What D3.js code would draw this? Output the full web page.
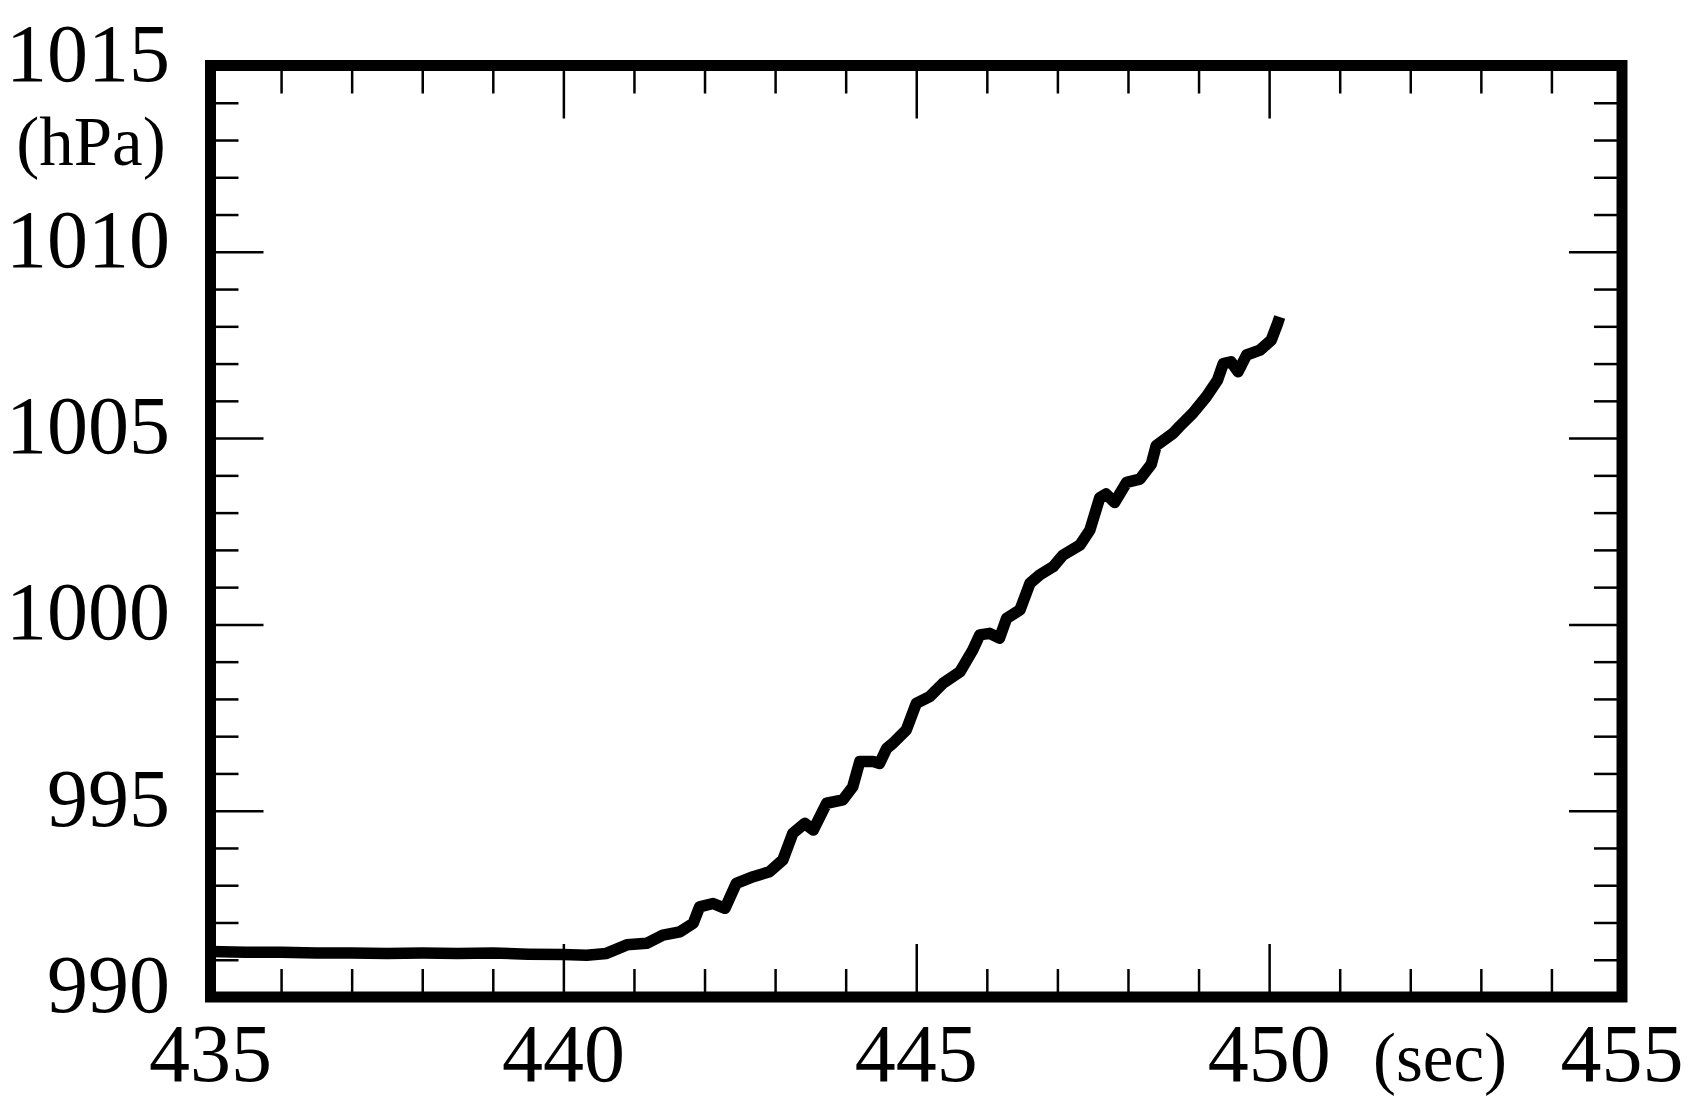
<!DOCTYPE html>
<html>
<head>
<meta charset="utf-8">
<script src="https://cdn.jsdelivr.net/npm/d3@7"></script>
<style>
  html, body { margin: 0; padding: 0; background: #fff; }
  svg { display: block; }
  text { font-family: "Liberation Serif", "Times New Roman", serif; fill: #000; }
</style>
</head>
<body>
<svg id="chart" width="1697" height="1114"></svg>
<script>
// ---- data ----
const timeSec = [435.0, 435.5, 436.0, 436.5, 437.0, 437.5, 438.0, 438.5, 439.0, 439.5, 440.0, 440.33, 440.61,
  440.9, 441.18, 441.41, 441.65, 441.84, 441.93, 442.12, 442.29, 442.45, 442.69, 442.92, 443.11, 443.25,
  443.42, 443.54, 443.73, 443.96, 444.1, 444.2, 444.39, 444.48, 444.58, 444.67, 444.86, 445.0, 445.19,
  445.38, 445.62, 445.8, 445.9, 446.04, 446.18, 446.28, 446.47, 446.61, 446.75, 446.94, 447.08, 447.32,
  447.46, 447.6, 447.69, 447.81, 447.98, 448.17, 448.33, 448.4, 448.64, 448.73, 448.92, 449.11, 449.27,
  449.35, 449.46, 449.56, 449.68, 449.87, 450.03, 450.12, 450.15];
const pressureHPa = [991.22, 991.2, 991.2, 991.18, 991.18, 991.17, 991.18, 991.17, 991.18, 991.15, 991.14, 991.12, 991.17,
  991.4, 991.44, 991.66, 991.75, 991.98, 992.42, 992.51, 992.38, 993.05, 993.23, 993.36, 993.68, 994.39,
  994.66, 994.48, 995.2, 995.29, 995.64, 996.32, 996.32, 996.27, 996.67, 996.81, 997.17, 997.88, 998.06,
  998.42, 998.73, 999.31, 999.72, 999.76, 999.63, 1000.16, 1000.39, 1001.1, 1001.33, 1001.55, 1001.86, 1002.13,
  1002.53, 1003.4, 1003.5, 1003.27, 1003.81, 1003.9, 1004.3, 1004.8, 1005.13, 1005.31, 1005.67, 1006.11, 1006.56,
  1007.0, 1007.05, 1006.78, 1007.23, 1007.36, 1007.63, 1008.08, 1008.25];

const xMajorTicks = [435, 440, 445, 450, 455];
const xMinorTicks = d3.range(436, 455, 1).filter(v => v % 5 !== 0);
const yMajorTicks = [990, 995, 1000, 1005, 1010, 1015];
const yMinorTicks = d3.range(991, 1015, 1).filter(v => v % 5 !== 0);
const xUnit = "(sec)";
const yUnit = "(hPa)";

// ---- layout ----
const L = 210.5, R = 1622, T = 65.5, B = 997;
const x = d3.scaleLinear().domain([435, 455]).range([L, R]);
const y = d3.scaleLinear().domain([990, 1015]).range([B, T]);

const svg = d3.select("#chart");

const minorLen = 28, majorLen = 53;

function tickGroup(axisFn, scale, values, len, transform) {
  const g = svg.append("g").attr("transform", transform)
    .call(axisFn(scale).tickValues(values).tickSize(-len).tickFormat(""));
  g.select(".domain").remove();
  g.selectAll(".tick line").attr("stroke", "#000").attr("stroke-width", 2.5);
  return g;
}

// bottom & top ticks (inward)
tickGroup(d3.axisBottom, x, xMinorTicks, minorLen, `translate(0,${B})`);
tickGroup(d3.axisBottom, x, xMajorTicks, majorLen, `translate(0,${B})`);
tickGroup(d3.axisTop, x, xMinorTicks, minorLen, `translate(0,${T})`);
tickGroup(d3.axisTop, x, xMajorTicks, majorLen, `translate(0,${T})`);
// left & right ticks (inward)
tickGroup(d3.axisLeft, y, yMinorTicks, minorLen, `translate(${L},0)`);
tickGroup(d3.axisLeft, y, yMajorTicks, majorLen, `translate(${L},0)`);
tickGroup(d3.axisRight, y, yMinorTicks, minorLen, `translate(${R},0)`);
tickGroup(d3.axisRight, y, yMajorTicks, majorLen, `translate(${R},0)`);

// data line
const pts = timeSec.map((t, i) => [t, pressureHPa[i]]);
const line = d3.line().x(d => x(d[0])).y(d => y(d[1])).curve(d3.curveLinear);
svg.append("path").datum(pts)
  .attr("d", line)
  .attr("fill", "none")
  .attr("stroke", "#000")
  .attr("stroke-width", 11.5)
  .attr("stroke-linejoin", "round")
  .attr("stroke-linecap", "butt");

// frame
svg.append("rect")
  .attr("x", L).attr("y", T).attr("width", R - L).attr("height", B - T)
  .attr("fill", "none").attr("stroke", "#000").attr("stroke-width", 11);

// y labels
svg.append("g").selectAll("text").data(yMajorTicks).join("text")
  .attr("x", 170)
  .attr("y", d => y(d) + 15)
  .attr("text-anchor", "end")
  .attr("font-size", 82)
  .text(d => d);

// x labels
svg.append("g").selectAll("text").data(xMajorTicks).join("text")
  .attr("x", d => x(d))
  .attr("y", 1081)
  .attr("text-anchor", "middle")
  .attr("font-size", 82)
  .text(d => d);

// units
svg.append("text").attr("x", 91).attr("y", 165).attr("text-anchor", "middle")
  .attr("font-size", 69).text(yUnit);
svg.append("text").attr("x", 1440).attr("y", 1081).attr("text-anchor", "middle")
  .attr("font-size", 69).text(xUnit);
</script>
</body>
</html>
